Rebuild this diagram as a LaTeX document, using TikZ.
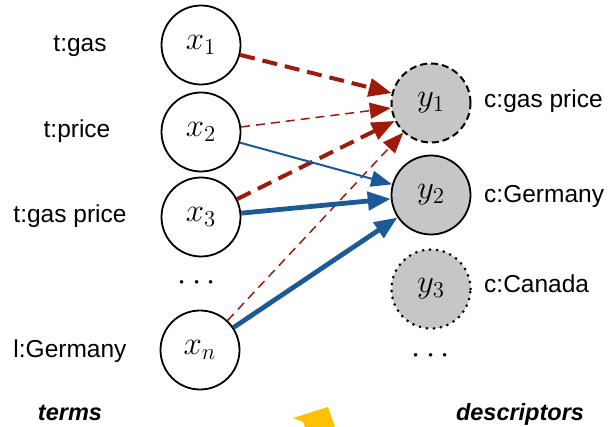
\documentclass[tikz,border=0pt]{standalone}
\usepackage{graphicx}
\usepackage{fontspec}
\setmainfont{Liberation Sans}
\usetikzlibrary{arrows.meta}
\definecolor{dred}{HTML}{9E1A0A}
\definecolor{dblue}{HTML}{1B5A96}
\definecolor{ngray}{HTML}{C6C6C6}
\definecolor{nyellow}{HTML}{FFC000}
\newcommand{\mvar}[1]{\scalebox{1.9}{$#1$}}
\begin{document}
\begin{tikzpicture}[x=1pt,y=-1pt,
  var/.style={circle,draw,line width=1.8pt,minimum size=79pt,inner sep=0pt,font=\fontsize{17.28}{20}\selectfont},
  desc/.style={var,fill=ngray},
  lbl/.style={font=\fontsize{24.5}{28}\selectfont,anchor=base,inner sep=0pt},
  rlbl/.style={font=\fontsize{24.5}{28}\selectfont,anchor=base west,inner sep=0pt},
  captext/.style={font=\fontsize{23.5}{28}\selectfont\bfseries\itshape,anchor=base,inner sep=0pt},
  dotsl/.style={font=\fontsize{17.28}{20}\selectfont,inner sep=0pt},
  redthick/.style={dred,line width=4pt,dash pattern=on 15pt off 8pt,-{Triangle[length=23pt,width=18pt]}},
  redthin/.style={dred,line width=1.5pt,dash pattern=on 9pt off 6pt,-{Triangle[length=21pt,width=16pt]}},
  bluethin/.style={dblue,line width=2pt,-{Triangle[length=21pt,width=16pt]}},
  bluethick/.style={dblue,line width=4.8pt,-{Triangle[length=23pt,width=18pt]}}
]
\useasboundingbox (0,0) rectangle (608,427);

% yellow fragment
\fill[nyellow] (293,418) -- (328,407) -- (335,427) -- (305,427) -- (303,422) -- cycle;

% term nodes
\node[var] (x1) at (201,45) {\mvar{x_1}};
\node[var] (x2) at (201,132) {\mvar{x_2}};
\node[var] (x3) at (201,217) {\mvar{x_3}};
\node[var] (xn) at (200,350) {\mvar{x_n}};
\node[dotsl] (ld) at (197,283) {\mvar{\cdots}};

% descriptor nodes
\node[desc,line width=2pt,dash pattern=on 7pt off 4pt] (y1) at (431,103) {\mvar{y_1}};
\node[desc] (y2) at (431,195) {\mvar{y_2}};
\node[desc,line width=3pt,dash pattern=on 0pt off 7pt,line cap=round] (y3) at (431,289) {\mvar{y_3}};
\node[dotsl] (rd) at (431,356) {\mvar{\cdots}};

% term labels
\node[lbl] (l1) at (80,52) {t:gas};
\node[lbl] (l2) at (77,138) {t:price};
\node[lbl] (l3) at (70,223) {t:gas price};
\node[lbl] (ln) at (70,358) {l:Germany};

% descriptor labels
\node[rlbl] (r1) at (484,108) {c:gas price};
\node[rlbl] (r2) at (484,203) {c:Germany};
\node[rlbl] (r3) at (484,293) {c:Canada};

% captions
\node[captext] (terms) at (70,421) {terms};
\node[captext] (descr) at (520,421) {descriptors};

% connectors
\draw[redthick] (x1) -- (y1);
\draw[redthin] (x2) -- (y1);
\draw[redthick] (x3) -- (y1);
\draw[redthin] (xn) -- (y1);
\draw[bluethin] (x2) -- (y2);
\draw[bluethick] (x3) -- (y2);
\draw[bluethick] (xn) -- (y2);
\end{tikzpicture}
\end{document}
